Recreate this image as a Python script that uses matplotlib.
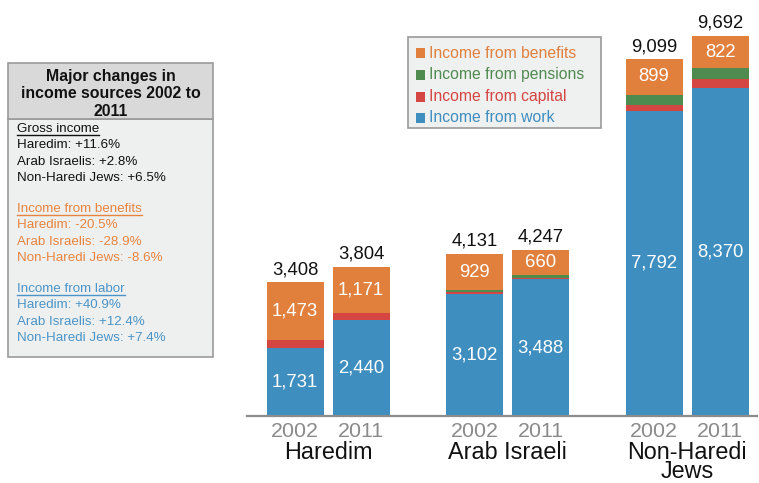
import numpy as np
import matplotlib
matplotlib.use("Agg")
import matplotlib.pyplot as plt
from matplotlib.patches import Rectangle
from matplotlib.lines import Line2D

plt.rcParams['font.family'] = ['Liberation Sans', 'DejaVu Sans']

groups = ["Haredim", "Arab Israeli", "Non-Haredi\nJews"]
years = ["2002", "2011"]
# per bar: H2002, H2011, A2002, A2011, N2002, N2011
work = [1731, 2440, 3102, 3488, 7792, 8370]
capital = [204, 193, 55, 29, 153, 230]
pensions = [0, 0, 45, 70, 255, 270]
benefits = [1473, 1171, 929, 660, 899, 822]
totals = [3408, 3804, 4131, 4247, 9099, 9692]

series = ["Income from work", "Income from capital", "Income from pensions", "Income from benefits"]
colors = ["#3e8ec0", "#d54541", "#4f8a4f", "#e1803c"]

box_title = "Major changes in\nincome sources 2002 to\n2011"
box_sections = [
    ("Gross income", ["Haredim: +11.6%", "Arab Israelis: +2.8%", "Non-Haredi Jews: +6.5%"], "#111111"),
    ("Income from benefits", ["Haredim: -20.5%", "Arab Israelis: -28.9%", "Non-Haredi Jews: -8.6%"], "#e8843e"),
    ("Income from labor", ["Haredim: +40.9%", "Arab Israelis: +12.4%", "Non-Haredi Jews: +7.4%"], "#4a94c8"),
]

W, H = 759, 483
fig = plt.figure(figsize=(W / 100, H / 100), dpi=100)


def fx(x):
    return x / W


def fy(y):
    return 1 - y / H


# axes placed in pixel terms
ax_l, ax_r, ax_b = 247, 757, 416
px_per_unit = 57.0
ax_top = 24
ax = fig.add_axes([fx(ax_l), fy(ax_b), (ax_r - ax_l) / W, (ax_b - ax_top) / H])

xpos = []
for g in range(3):
    for k in range(2):
        xpos.append(g * 3.15 + k * 1.16)
xpos = np.array(xpos)

layers = [work, capital, pensions, benefits]
bottom = np.zeros(6)
for vals, c in zip(layers, colors):
    ax.bar(xpos, vals, width=1.0, bottom=bottom, color=c, edgecolor="none")
    bottom += np.array(vals)

for i in range(6):
    ax.text(xpos[i], work[i] / 2, f"{work[i]:,}", ha="center", va="center",
            color="white", fontsize=13.3)
    b0 = work[i] + capital[i] + pensions[i]
    ax.text(xpos[i], b0 + benefits[i] / 2, f"{benefits[i]:,}", ha="center", va="center",
            color="white", fontsize=13.3)
    ax.text(xpos[i], totals[i] + 110, f"{totals[i]:,}", ha="center", va="bottom",
            color="#111111", fontsize=13.3)

x0 = -(295 - ax_l) / px_per_unit
ax.set_xlim(x0, x0 + (ax_r - ax_l) / px_per_unit)
ax.set_ylim(0, (ax_b - ax_top) / 0.0392)
for s in ["top", "right", "left"]:
    ax.spines[s].set_visible(False)
ax.spines["bottom"].set_color("#8c8c8c")
ax.spines["bottom"].set_linewidth(1.6)
ax.set_yticks([])
ax.set_xticks(xpos)
ax.set_xticklabels(years * 3, color="#8a8a8a", fontsize=15.4)
ax.tick_params(axis="x", length=0, pad=4)

trans = matplotlib.transforms.blended_transform_factory(ax.transData, fig.transFigure)
for g in range(3):
    cx = (xpos[2 * g] + xpos[2 * g + 1]) / 2
    ax.text(cx, fy(441), groups[g], transform=trans,
            ha="center", va="top", fontsize=16.8, color="#111111", linespacing=0.8)

# legend box
fig.patches.append(Rectangle((fx(408), fy(128)), (601 - 408) / W, (128 - 37) / H,
                             transform=fig.transFigure, facecolor="#eff0f0",
                             edgecolor="#9a9a9a", linewidth=1.2))
leg_y = [53, 75, 97, 118]
for yy, name, c in zip(leg_y, series[::-1], colors[::-1]):
    fig.patches.append(Rectangle((fx(416), fy(yy + 4.5)), 9 / W, 9 / H,
                                 transform=fig.transFigure, facecolor=c, edgecolor="none"))
    fig.text(fx(429), fy(yy), name, color=c, fontsize=11.3, va="center", ha="left")

# left annotation box
fig.patches.append(Rectangle((fx(8), fy(357)), (213 - 8) / W, (357 - 119) / H,
                             transform=fig.transFigure, facecolor="#eef0ef",
                             edgecolor="#9a9a9a", linewidth=1.2))
fig.patches.append(Rectangle((fx(8), fy(119)), (213 - 8) / W, (119 - 63) / H,
                             transform=fig.transFigure, facecolor="#d9d9d9",
                             edgecolor="#9a9a9a", linewidth=1.2))
fig.text(fx(110.5), fy(94), box_title, ha="center", va="center", fontsize=11.4,
         fontweight="bold", color="#111111", linespacing=1.25)

heads = []
sec_y = [129, 209, 289]
for (head, rows, c), y0 in zip(box_sections, sec_y):
    t = fig.text(fx(17), fy(y0), head, color=c, fontsize=9.6, va="center", ha="left")
    heads.append((t, c))
    for j, r in enumerate(rows):
        fig.text(fx(17), fy(y0 + 16.3 * (j + 1)), r, color=c, fontsize=9.6, va="center", ha="left")

fig.canvas.draw()
renderer = fig.canvas.get_renderer()
for t, c in heads:
    bb = t.get_window_extent(renderer)
    yl = bb.y0 + 0.5
    fig.lines.append(Line2D([bb.x0 / W, bb.x1 / W], [yl / H, yl / H],
                           transform=fig.transFigure, color=c, linewidth=1.0))

fig.savefig("out.png", dpi=100)
